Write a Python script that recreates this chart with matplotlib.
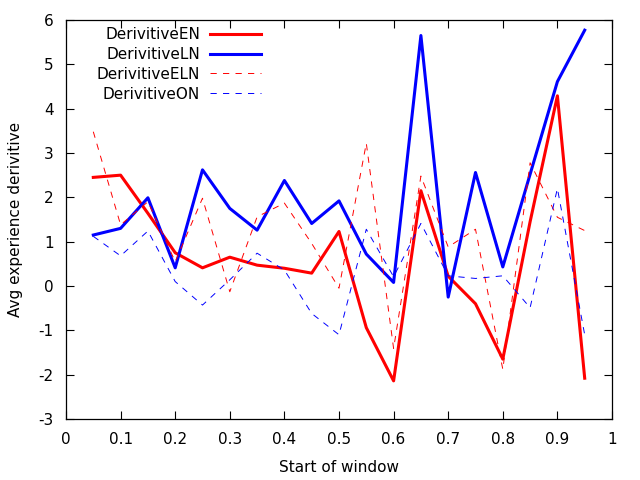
#!/usr/bin/python3

# Average experience derivitive per window start (gnuplot-style look)

import numpy as np
import matplotlib
matplotlib.use('Agg')
import matplotlib.pyplot as plt

window_start = [0.05, 0.10, 0.15, 0.20, 0.25, 0.30, 0.35, 0.40, 0.45, 0.50,
                0.55, 0.60, 0.65, 0.70, 0.75, 0.80, 0.85, 0.90, 0.95]

deriv_en = [2.45, 2.50, 1.64, 0.75, 0.41, 0.65, 0.47, 0.40, 0.29, 1.23,
            -0.94, -2.14, 2.15, 0.22, -0.40, -1.65, 1.45, 4.29, -2.08]
deriv_ln = [1.15, 1.30, 1.99, 0.41, 2.62, 1.75, 1.26, 2.38, 1.41, 1.92,
            0.72, 0.08, 5.65, -0.25, 2.56, 0.43, 2.52, 4.61, 5.77]
deriv_eln = [3.48, 1.38, 1.90, 0.55, 1.98, -0.13, 1.56, 1.87, 0.96, -0.05,
             3.22, -1.41, 2.48, 0.88, 1.28, -1.88, 2.78, 1.55, 1.25]
deriv_on = [1.12, 0.68, 1.24, 0.10, -0.43, 0.14, 0.74, 0.36, -0.62, -1.10,
            1.28, 0.21, 1.41, 0.23, 0.17, 0.23, -0.49, 2.20, -1.10]

x_ticks = np.round(np.arange(0, 1.01, 0.1), 1)
y_ticks = np.arange(-3, 7, 1)

plt.rcParams['font.family'] = ['DejaVu Sans']
plt.rcParams['font.size'] = 11
plt.rcParams['lines.scale_dashes'] = False
plt.rcParams['axes.unicode_minus'] = False

fig = plt.figure(figsize=(6.4, 4.8), dpi=100)
ax = fig.add_axes([66 / 640, 1 - 419 / 480, (612 - 66) / 640, (419 - 20) / 480])

ax.plot(window_start, deriv_en, color='#ff0000', lw=2.2, label='DerivitiveEN')
ax.plot(window_start, deriv_ln, color='#0000ff', lw=2.2, label='DerivitiveLN')
ax.plot(window_start, deriv_eln, color='#ff0000', lw=0.7, dashes=(4.5, 4.5),
        label='DerivitiveELN')
ax.plot(window_start, deriv_on, color='#0000ff', lw=0.7, dashes=(4.5, 4.5),
        label='DerivitiveON')

ax.set_xlim(0, 1)
ax.set_ylim(-3, 6)
ax.set_xticks(x_ticks)
ax.set_xticklabels([f'{t:g}' for t in x_ticks])
ax.set_yticks(y_ticks)
ax.tick_params(direction='in', length=6, width=0.8, top=True, right=True)
ax.tick_params(axis='x', pad=9.5)
ax.tick_params(axis='y', pad=9)
for s in ax.spines.values():
    s.set_linewidth(0.9)

ax.set_xlabel('Start of window', labelpad=9)
ax.set_ylabel('Avg experience derivitive', labelpad=11)

ax.legend(loc='upper right', frameon=False, markerfirst=False, handlelength=3.3,
          handletextpad=0.65, labelspacing=0.32, borderaxespad=0.0,
          borderpad=0.2, bbox_to_anchor=(0.362, 0.99))

fig.savefig('out.png', dpi=100)
